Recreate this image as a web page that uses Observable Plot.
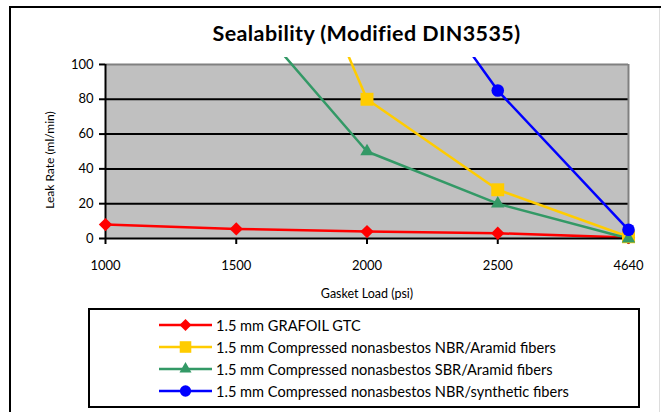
<!DOCTYPE html>
<html><head><meta charset="utf-8">
<script src="https://cdn.jsdelivr.net/npm/d3@7"></script>
<script src="https://cdn.jsdelivr.net/npm/@observablehq/plot@0.6"></script>
<style>
body{margin:0;background:#fff;font-family:Lato,"Open Sans",sans-serif;}
#wrap{position:relative;width:661px;height:412px;overflow:hidden;background:#fff;}
#chart{position:absolute;left:0;top:0;}
#border{position:absolute;left:9px;top:6px;width:660px;height:420px;border-left:2px solid #000;border-top:2px solid #000;box-sizing:border-box;pointer-events:none;}
#rb{position:absolute;left:659px;top:8px;width:1px;height:410px;background:#ddd;}
#title{position:absolute;left:105px;width:523px;top:21px;text-align:center;font-weight:bold;font-size:21.5px;letter-spacing:0.4px;line-height:24px;color:#000;}
#ylab{position:absolute;left:49px;top:160px;transform:translate(-50%,-50%) rotate(-90deg);font-size:12px;white-space:nowrap;color:#000;}
#xlab{position:absolute;left:367px;top:293px;transform:translate(-50%,-50%);font-size:12.5px;white-space:nowrap;color:#000;}
#legend{position:absolute;left:88px;top:308px;width:552px;height:100px;border:2px solid #000;box-sizing:border-box;}
.row{position:absolute;left:69px;height:20px;display:flex;align-items:center;font-size:14.6px;white-space:nowrap;color:#000;}
.row svg{margin-right:2px;}
</style></head><body>
<div id="wrap">
  <div id="chart"></div>
  <div id="title">Sealability (Modified DIN3535)</div>
  <div id="ylab">Leak Rate (ml/min)</div>
  <div id="xlab">Gasket Load (psi)</div>
  <div id="legend"></div>
  <div id="rb"></div>
  <div id="border"></div>
</div>
<script>
// Data
const loads = ["1000", "1500", "2000", "2500", "4640"];
const seriesNames = [
  "1.5 mm GRAFOIL GTC",
  "1.5 mm Compressed nonasbestos NBR/Aramid fibers",
  "1.5 mm Compressed nonasbestos SBR/Aramid fibers",
  "1.5 mm Compressed nonasbestos NBR/synthetic fibers"
];
const grafoil      = [8, 5.5, 4, 3, 0.5];
const nbrAramid    = [null, 255, 80, 28, 1];
const sbrAramid    = [null, 137, 50, 20, 0];
const nbrSynthetic = [null, null, 190, 85, 5];
const yTicks = [0, 20, 40, 60, 80, 100];

const colors  = ["#ff0000", "#ffcc00", "#339966", "#0000ff"];
const symbols = ["diamond2", "square", "triangle", "circle"];
const radii   = [6, 7.3, 5, 6.3];
const allValues = [grafoil, nbrAramid, sbrAramid, nbrSynthetic];

const tables = allValues.map((vals, s) => vals.map((v, i) => ({series: seriesNames[s], i, v})));

const marks = [
  Plot.rect([0], {x1: () => 0, x2: () => loads.length - 1, y1: () => 0, y2: () => 100, fill: "#c0c0c0"}),
  Plot.ruleY([20, 40, 60, 80], {x1: 0, x2: loads.length - 1, stroke: "#000", strokeWidth: 2}),
  Plot.ruleY([100], {x1: 0, x2: loads.length - 1, stroke: "#808080", strokeWidth: 2}),
  Plot.ruleX([loads.length - 1], {y1: 0, y2: 100, stroke: "#808080", strokeWidth: 2}),
  Plot.axisY({ticks: yTicks, tickSize: 6, tickPadding: 6, strokeWidth: 2, label: null, fontSize: 13}),
  Plot.axisX({ticks: d3.range(loads.length), tickFormat: i => loads[i], tickSize: 6, tickPadding: 16, strokeWidth: 2, label: null, fontSize: 13}),
  ...tables.map((t, s) => Plot.line(t, {x: "i", y: "v", stroke: colors[s], strokeWidth: 2.5, clip: true})),
  Plot.ruleX([0], {y1: 0, y2: 100, stroke: "#000", strokeWidth: 2}),
  Plot.ruleY([0], {x1: 0, x2: loads.length - 1, stroke: "#000", strokeWidth: 2}),
  ...tables.map((t, s) => Plot.dot(t.filter(d => d.v != null && d.v <= 100), {x: "i", y: "v", symbol: symbols[s], fill: colors[s], r: radii[s], stroke: "none"}))
];

const chart = Plot.plot({
  width: 661, height: 300,
  marginLeft: 105, marginRight: 33, marginTop: 57, marginBottom: 62,
  style: {fontFamily: "Lato, 'Open Sans', sans-serif", fontSize: "13px", background: "transparent", color: "#000"},
  x: {type: "linear", domain: [0, loads.length - 1]},
  y: {domain: [0, 104]},
  marks
});
document.getElementById("chart").appendChild(chart);

// Legend
const legend = document.getElementById("legend");
const rowTops = [5, 27, 49, 71];
seriesNames.forEach((name, s) => {
  const row = document.createElement("div");
  row.className = "row";
  row.style.top = rowTops[s] + "px";
  const svg = d3.create("svg").attr("width", 55).attr("height", 20);
  svg.append("line").attr("x1", 0).attr("x2", 53).attr("y1", 10).attr("y2", 10)
    .attr("stroke", colors[s]).attr("stroke-width", 2.5);
  const symMap = {diamond2: d3.symbolDiamond2, square: d3.symbolSquare, triangle: d3.symbolTriangle, circle: d3.symbolCircle};
  svg.append("path").attr("transform", "translate(26.5,10)")
    .attr("d", d3.symbol(symMap[symbols[s]], Math.PI * radii[s] * radii[s] * 0.8)())
    .attr("fill", colors[s]);
  row.appendChild(svg.node());
  const span = document.createElement("span");
  span.textContent = name;
  row.appendChild(span);
  legend.appendChild(row);
});
</script>
</body></html>
